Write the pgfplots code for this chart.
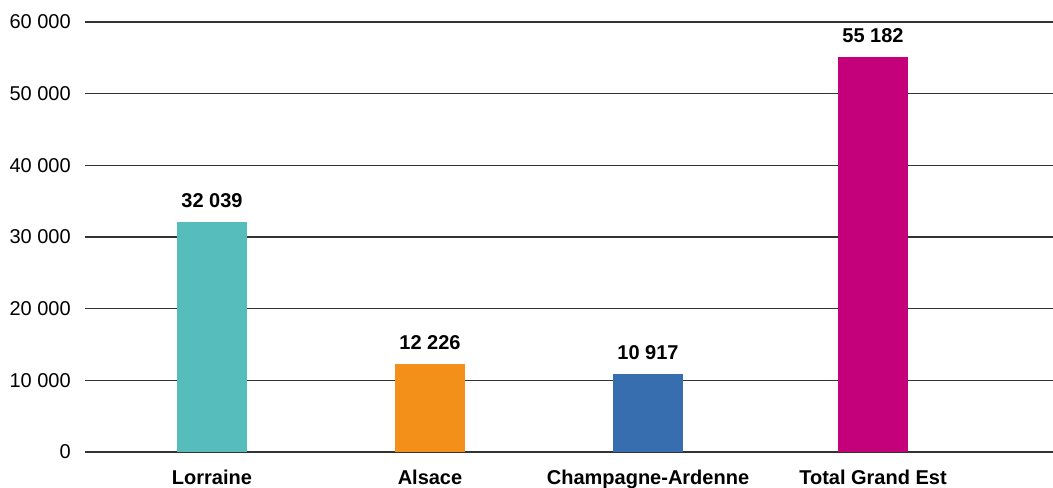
\documentclass[border=0pt]{standalone}
\usepackage{pgfplots}
\pgfplotsset{compat=1.18}
\usepackage{fontspec}
\setmainfont{Liberation Sans}
\definecolor{cteal}{HTML}{56BCBC}
\definecolor{corange}{HTML}{F39019}
\definecolor{cblue}{HTML}{366EAF}
\definecolor{cmag}{HTML}{C4007A}
\begin{document}
\begin{tikzpicture}[x=0.75pt,y=0.75pt]
  \path[use as bounding box] (-85,-36) rectangle (968,452);
  \begin{axis}[
      scale only axis,
      width=726pt, height=322.5pt,
      xmin=85, xmax=1053,
      ymin=0, ymax=60000,
      scaled y ticks=false,
      axis line style={draw=none},
      major tick length=0pt,
      ymajorgrids,
      grid style={black!80, line width=0.8pt},
      ytick={0,10000,...,60000},
      yticklabels={0,10 000,20 000,30 000,40 000,50 000,60 000},
      xtick={212,430,648,873},
      xticklabels={Lorraine,Alsace,Champagne-Ardenne,Total Grand Est},
      /pgf/number format/assume math mode=true,
      tick label style={font=\fontsize{15}{18}\selectfont},
      yticklabel style={inner sep=0pt, xshift=-10.5pt},
      xticklabel style={inner sep=0pt, yshift=-13.5pt, font=\fontsize{15}{18}\selectfont\bfseries},
      point meta=explicit symbolic,
      nodes near coords,
      every node near coord/.append style={font=\fontsize{15}{18}\selectfont\bfseries, inner sep=0pt, yshift=10.5pt},
      clip=false,
    ]
    \addplot[ybar, bar width=52.5pt, bar shift=0pt, fill=cteal, draw=none] coordinates {(212,32039) [32 039]};
    \addplot[ybar, bar width=52.5pt, bar shift=0pt, fill=corange, draw=none] coordinates {(430,12226) [12 226]};
    \addplot[ybar, bar width=52.5pt, bar shift=0pt, fill=cblue, draw=none] coordinates {(648,10917) [10 917]};
    \addplot[ybar, bar width=52.5pt, bar shift=0pt, fill=cmag, draw=none] coordinates {(873,55182) [55 182]};
  \end{axis}
\end{tikzpicture}
\end{document}
